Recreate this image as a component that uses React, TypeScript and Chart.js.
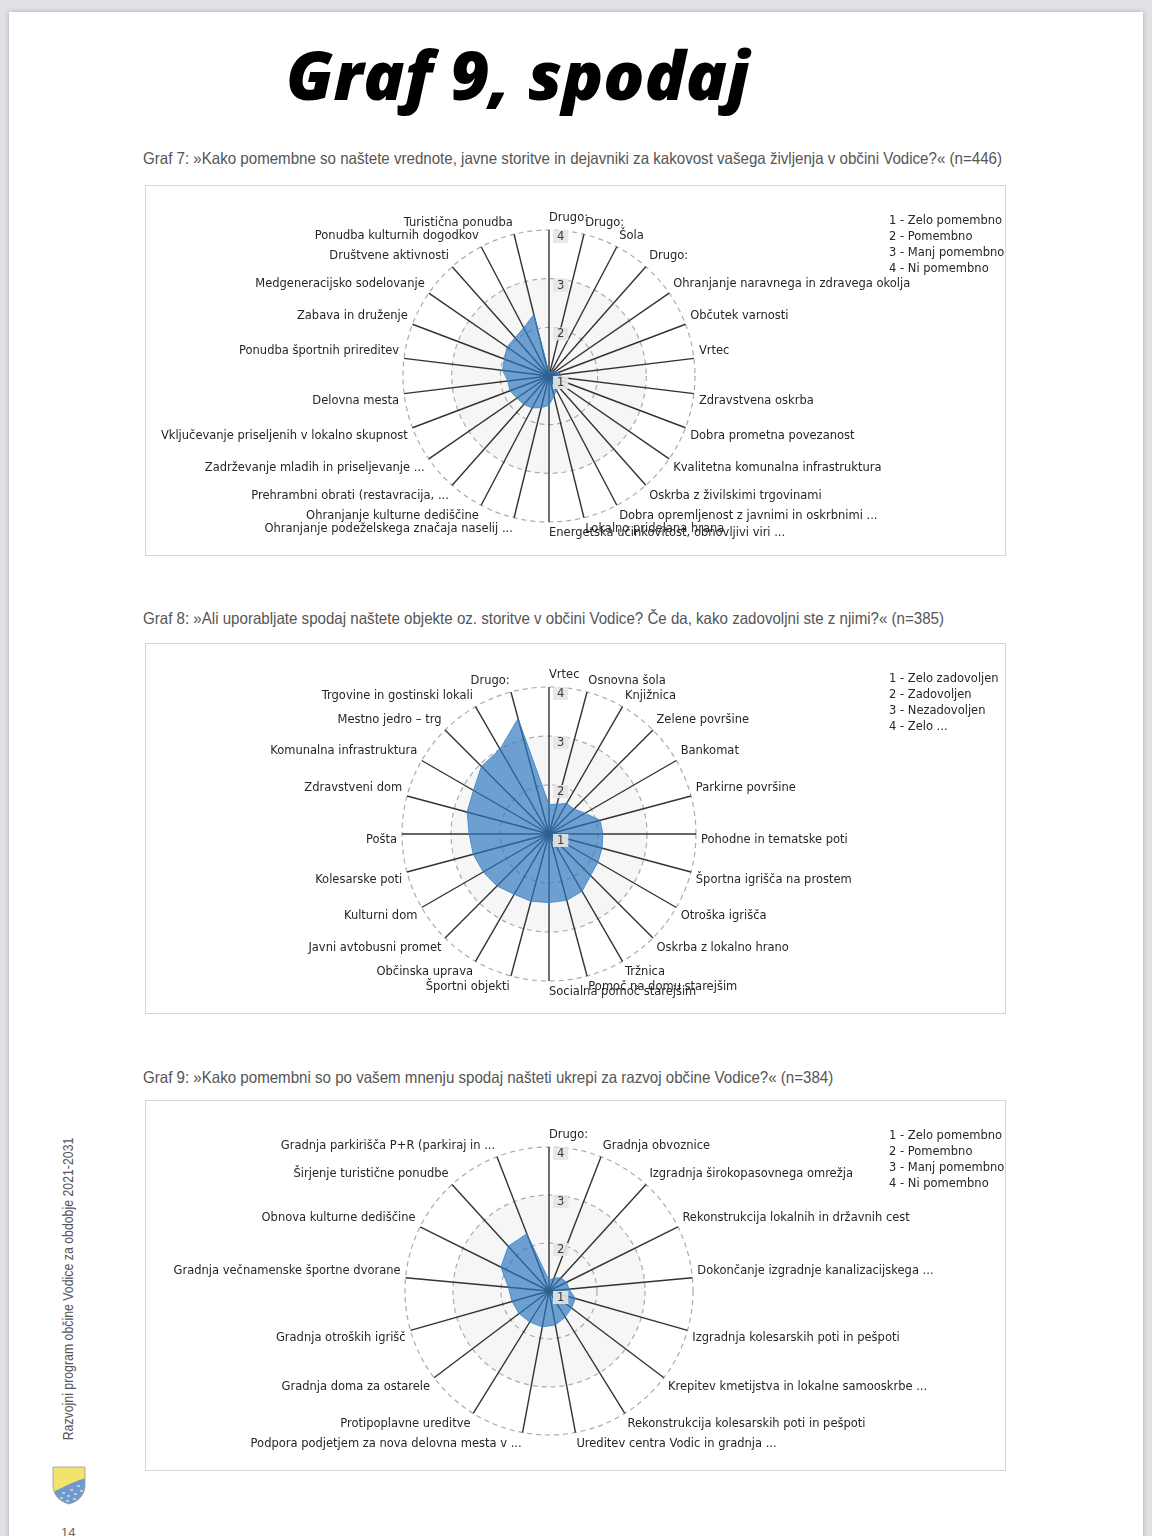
import React, { useEffect, useRef } from 'react';
import { Chart, registerables } from 'chart.js';

Chart.register(...registerables);

// ---------- DATA ----------
const labels7 = [
  'Drugo:', 'Drugo:', 'Šola', 'Drugo:', 'Ohranjanje naravnega in zdravega okolja', 'Občutek varnosti', 'Vrtec',
  'Zdravstvena oskrba', 'Dobra prometna povezanost', 'Kvalitetna komunalna infrastruktura',
  'Oskrba z živilskimi trgovinami', 'Dobra opremljenost z javnimi in oskrbnimi ...', 'Lokalno pridelana hrana',
  'Energetska učinkovitost, obnovljivi viri ...', 'Ohranjanje podeželskega značaja naselij ...',
  'Ohranjanje kulturne dediščine', 'Prehrambni obrati (restavracija, ...', 'Zadrževanje mladih in priseljevanje ...',
  'Vključevanje priseljenih v lokalno skupnost', 'Delovna mesta', 'Ponudba športnih prireditev',
  'Zabava in druženje', 'Medgeneracijsko sodelovanje', 'Društvene aktivnosti', 'Ponudba kulturnih dogodkov',
  'Turistična ponudba',
];
const values7 = [
  1.07, 1.07, 1.1, 1.12, 1.15, 1.2, 1.25, 1.27, 1.28, 1.3, 1.3, 1.33, 1.42,
  1.6, 1.67, 1.74, 1.78, 1.8, 1.86, 1.85, 1.96, 1.98, 2.05, 2.05, 2.12, 2.3,
];
const legend7 = ['1 - Zelo pomembno', '2 - Pomembno', '3 - Manj pomembno', '4 - Ni pomembno'];

const labels8 = [
  'Vrtec', 'Osnovna šola', 'Knjižnica', 'Zelene površine', 'Bankomat', 'Parkirne površine',
  'Pohodne in tematske poti', 'Športna igrišča na prostem', 'Otroška igrišča', 'Oskrba z lokalno hrano',
  'Tržnica', 'Pomoč na domu starejšim', 'Socialna pomoč starejšim', 'Športni objekti', 'Občinska uprava',
  'Javni avtobusni promet', 'Kulturni dom', 'Kolesarske poti', 'Pošta', 'Zdravstveni dom',
  'Komunalna infrastruktura', 'Mestno jedro – trg', 'Trgovine in gostinski lokali', 'Drugo:',
];
const values8 = [
  1.6, 1.63, 1.72, 1.72, 1.85, 2.08, 2.1, 2.12, 2.15, 2.2, 2.35, 2.4,
  2.4, 2.42, 2.42, 2.5, 2.55, 2.6, 2.63, 2.73, 2.78, 2.95, 3.0, 3.44,
];
const legend8 = ['1 - Zelo zadovoljen', '2 - Zadovoljen', '3 - Nezadovoljen', '4 - Zelo ...'];

const labels9 = [
  'Drugo:', 'Gradnja obvoznice', 'Izgradnja širokopasovnega omrežja', 'Rekonstrukcija lokalnih in državnih cest',
  'Dokončanje izgradnje kanalizacijskega ...', 'Izgradnja kolesarskih poti in pešpoti',
  'Krepitev kmetijstva in lokalne samooskrbe ...', 'Rekonstrukcija kolesarskih poti in pešpoti',
  'Ureditev centra Vodic in gradnja ...', 'Podpora podjetjem za nova delovna mesta v ...',
  'Protipoplavne ureditve', 'Gradnja doma za ostarele', 'Gradnja otroških igrišč',
  'Gradnja večnamenske športne dvorane', 'Obnova kulturne dediščine', 'Širjenje turistične ponudbe',
  'Gradnja parkirišča P+R (parkiraj in ...',
];
const values9 = [
  1.22, 1.29, 1.37, 1.41, 1.42, 1.57, 1.59, 1.64, 1.72, 1.76, 1.76, 1.78, 1.8, 1.85, 2.12, 2.26, 2.28,
];
const legend9 = ['1 - Zelo pomembno', '2 - Pomembno', '3 - Manj pomembno', '4 - Ni pomembno'];

const tickLabels = ['1', '2', '3', '4'];

const caption7 = 'Graf 7: »Kako pomembne so naštete vrednote, javne storitve in dejavniki za kakovost vašega življenja v občini Vodice?« (n=446)';
const caption8 = 'Graf 8: »Ali uporabljate spodaj naštete objekte oz. storitve v občini Vodice? Če da, kako zadovoljni ste z njimi?« (n=385)';
const caption9 = 'Graf 9: »Kako pomembni so po vašem mnenju spodaj našteti ukrepi za razvoj občine Vodice?« (n=384)';

// ---------- PLUGIN ----------
const LABEL_FONT = '11.5px "DejaVu Sans", Verdana, sans-serif';

const radarDecor: any = {
  id: 'radarDecor',
  beforeDraw(chart: any) {
    const s = chart.scales.r;
    const ctx = chart.ctx;
    ctx.save();
    ctx.beginPath();
    ctx.arc(s.xCenter, s.yCenter, s.getDistanceFromCenterForValue(3), 0, Math.PI * 2);
    ctx.fillStyle = '#f6f6f6';
    ctx.fill();
    ctx.restore();
  },
  afterDraw(chart: any, _args: any, opts: any) {
    const s = chart.scales.r;
    const ctx = chart.ctx;
    const labels: string[] = chart.data.labels;
    ctx.save();
    ctx.font = LABEL_FONT;
    ctx.fillStyle = '#262626';
    ctx.textBaseline = 'middle';
    const lh = 13;
    const eps = 1e-6;
    labels.forEach((lab, i) => {
      const p = s.getPointPosition(i, s.drawingArea + 5);
      const deg = (s.getIndexAngle(i) * 180) / Math.PI;
      ctx.textAlign = deg <= 180 + eps ? 'left' : 'right';
      const below = deg >= 90 - eps && deg <= 270 + eps;
      ctx.fillText(lab, p.x, below ? p.y + lh / 2 : p.y - lh / 2);
    });
    // tick labels with backdrop
    ctx.textAlign = 'left';
    s.ticks.forEach((t: any, idx: number) => {
      const d = s.getDistanceFromCenterForValue(t.value);
      const txt = tickLabels[idx] ?? String(t.value);
      const w = ctx.measureText(txt).width;
      const bx = s.xCenter + 4;
      const by = s.yCenter - d;
      ctx.fillStyle = 'rgba(230,230,230,0.9)';
      ctx.fillRect(bx, by, w + 8, 13);
      ctx.fillStyle = '#3a3a3a';
      ctx.fillText(txt, bx + 4, by + 7);
    });
    // legend text
    const legend: string[] = (opts && opts.legend) || [];
    ctx.fillStyle = '#262626';
    legend.forEach((l, i) => {
      ctx.fillText(l, opts.x, opts.y + i * 16);
    });
    ctx.restore();
  },
};

// ---------- COMPONENT ----------
type RadarProps = {
  labels: string[];
  values: number[];
  legend: string[];
  width: number;
  height: number;
  cx: number;
  cy: number;
  radius: number;
};

function RadarBox({ labels, values, legend, width, height, cx, cy, radius }: RadarProps) {
  const ref = useRef<HTMLCanvasElement | null>(null);
  useEffect(() => {
    if (!ref.current) return;
    const chart = new Chart(ref.current, {
      type: 'radar',
      data: {
        labels,
        datasets: [
          {
            data: values,
            fill: true,
            backgroundColor: 'rgba(44,120,192,0.68)',
            borderColor: 'rgba(60,130,200,0.85)',
            borderWidth: 1,
            pointRadius: 0,
          },
        ],
      },
      options: {
        responsive: false,
        animation: false,
        layout: {
          padding: {
            left: cx - radius,
            right: width - cx - radius,
            top: cy - radius,
            bottom: height - cy - radius,
          },
        },
        plugins: {
          legend: { display: false },
          tooltip: { enabled: false },
          radarDecor: { legend, x: 743, y: 35 },
        } as any,
        scales: {
          r: {
            min: 1,
            max: 4,
            startAngle: 0,
            ticks: { display: false, stepSize: 1 },
            grid: { circular: true, color: '#ababab', lineWidth: 1.2 },
            border: { dash: [5, 4] } as any,
            angleLines: { color: '#333', lineWidth: 1.4 },
            pointLabels: { display: false },
          },
        },
      } as any,
      plugins: [radarDecor],
    });
    return () => chart.destroy();
  }, []);
  return <canvas ref={ref} width={width} height={height} style={{ display: 'block', width, height }} />;
}

const captionStyle: React.CSSProperties = {
  position: 'absolute',
  left: 143,
  fontFamily: '"Liberation Sans Narrow", "Liberation Sans", Arial, sans-serif',
  fontSize: 16.5,
  color: '#555',
  whiteSpace: 'nowrap',
  lineHeight: '18px',
  transform: 'scaleX(0.915)',
  transformOrigin: '0 50%',
};

const boxStyle = (top: number): React.CSSProperties => ({
  position: 'absolute',
  left: 145,
  top,
  width: 861,
  height: 371,
  boxSizing: 'border-box',
  border: '1px solid #d6d6d6',
  background: '#fff',
});

export default function App() {
  return (
    <div
      style={{
        position: 'absolute',
        left: 0,
        top: 0,
        width: 1152,
        height: 1536,
        overflow: 'hidden',
        background: '#e2e2e6',
      }}
    >
      <div
        style={{
          position: 'absolute',
          left: 9,
          top: 12,
          width: 1134,
          height: 1540,
          background: '#fff',
          boxShadow: '0 0 5px rgba(0,0,0,0.25)',
        }}
      />
      <div
        style={{
          position: 'absolute',
          left: 0,
          top: 27,
          width: 1035,
          textAlign: 'center',
          fontFamily: '"Open Sans", Roboto, sans-serif',
          fontWeight: 800,
          fontStyle: 'italic',
          fontSize: 68,
          color: '#000',
          whiteSpace: 'nowrap',
        }}
      >
        Graf 9, spodaj
      </div>

      <div style={{ ...captionStyle, top: 149 }}>{caption7}</div>
      <div style={boxStyle(185)}>
        <RadarBox labels={labels7} values={values7} legend={legend7} width={859} height={369} cx={403} cy={190} radius={146} />
      </div>

      <div style={{ ...captionStyle, top: 609 }}>{caption8}</div>
      <div style={boxStyle(643)}>
        <RadarBox labels={labels8} values={values8} legend={legend8} width={859} height={369} cx={403} cy={190} radius={147} />
      </div>

      <div style={{ ...captionStyle, top: 1068 }}>{caption9}</div>
      <div style={boxStyle(1100)}>
        <RadarBox labels={labels9} values={values9} legend={legend9} width={859} height={369} cx={403} cy={190} radius={144} />
      </div>

      <div
        style={{
          position: 'absolute',
          left: 68,
          top: 1289,
          transform: 'translate(-50%, -50%) rotate(-90deg) scaleX(0.88)',
          fontFamily: '"Liberation Sans Narrow", "Liberation Sans", Arial, sans-serif',
          fontSize: 14,
          color: '#555',
          whiteSpace: 'nowrap',
        }}
      >
        Razvojni program občine Vodice za obdobje 2021-2031
      </div>

      <svg style={{ position: 'absolute', left: 52, top: 1466 }} width={34} height={39} viewBox="0 0 34 39">
        <defs>
          <clipPath id="shield">
            <path d="M1 1 H33 V19 C33 30 25 36 17 38 C9 36 1 30 1 19 Z" />
          </clipPath>
        </defs>
        <g clipPath="url(#shield)">
          <rect x={0} y={0} width={34} height={39} fill="#f1e36b" />
          <path d="M0 26 C8 24 14 18 34 12 V39 H0 Z" fill="#6f9acb" />
          <path d="M10 27 h3 M18 24 h3 M25 20 h3 M8 32 h3 M15 30 h3 M22 28 h3 M28 25 h3 M14 35 h3 M21 33 h3" stroke="#fff" strokeWidth={1} />
        </g>
        <path d="M1 1 H33 V19 C33 30 25 36 17 38 C9 36 1 30 1 19 Z" fill="none" stroke="#9a9a9a" strokeWidth={0.8} />
      </svg>

      <div
        style={{
          position: 'absolute',
          left: 61,
          top: 1525,
          fontFamily: '"Liberation Sans", Arial, sans-serif',
          fontSize: 13,
          color: '#666',
        }}
      >
        14
      </div>
    </div>
  );
}
